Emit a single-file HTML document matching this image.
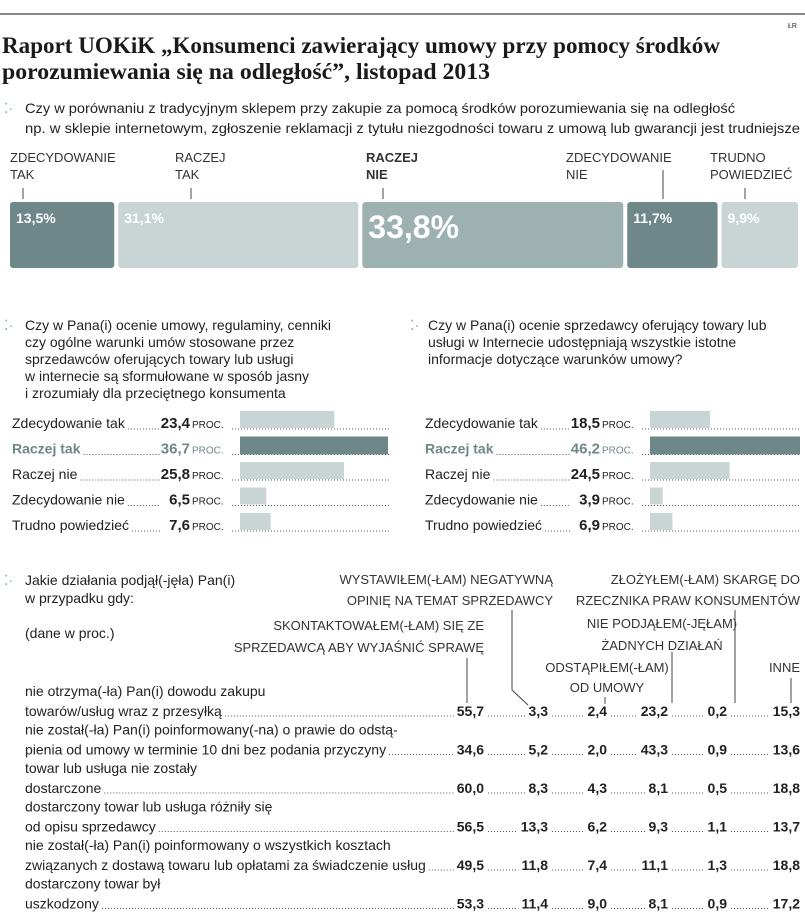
<!DOCTYPE html>
<html><head><meta charset="utf-8"><style>
html,body{margin:0;padding:0;background:#fff}
svg{display:block}
text{font-family:"Liberation Sans",sans-serif;fill:#222}
.t{font-family:"Liberation Serif",serif;font-weight:bold;font-size:23px;fill:#1a1a1a}
.q{font-size:14px}
.cap{font-size:13px;fill:#333}
.dot{stroke:#555;stroke-width:1;stroke-dasharray:1 2}
.ln{stroke:#444;stroke-width:1;fill:none}
</style></head><body>
<svg id="s" width="805" height="920" viewBox="0 0 805 920">
<line x1="0" y1="14" x2="805" y2="14" stroke="#888" stroke-width="2"/>
<text x="788" y="28" font-size="7">ŁR</text>
<text class="t" x="2" y="53" textLength="718" lengthAdjust="spacingAndGlyphs">Raport UOKiK „Konsumenci zawierający umowy przy pomocy środków</text>
<text class="t" x="2" y="79" textLength="488" lengthAdjust="spacingAndGlyphs">porozumiewania się na odległość”, listopad 2013</text>
<text class="q" x="4" y="113" style="fill:#7a9">⁚·</text>
<text class="q" x="25" y="113" textLength="710" lengthAdjust="spacingAndGlyphs">Czy w porównaniu z tradycyjnym sklepem przy zakupie za pomocą środków porozumiewania się na odległość</text>
<text class="q" x="25" y="133" textLength="775" lengthAdjust="spacingAndGlyphs">np. w sklepie internetowym, zgłoszenie reklamacji z tytułu niezgodności towaru z umową lub gwarancji jest trudniejsze</text>
<g id="top"></g>
<g id="q2">
<text class="q" x="4" y="330" style="fill:#7a9">⁚·</text>
<text class="q" x="25" y="330">Czy w Pana(i) ocenie umowy, regulaminy, cenniki</text>
<text class="q" x="25" y="347">czy ogólne warunki umów stosowane przez</text>
<text class="q" x="25" y="364">sprzedawców oferujących towary lub usługi</text>
<text class="q" x="25" y="381">w internecie są sformułowane w sposób jasny</text>
<text class="q" x="25" y="398">i zrozumiały dla przeciętnego konsumenta</text>
</g>
<g id="q3">
<text class="q" x="410" y="330" style="fill:#7a9">⁚·</text>
<text class="q" x="428" y="330">Czy w Pana(i) ocenie sprzedawcy oferujący towary lub</text>
<text class="q" x="428" y="347">usługi w Internecie udostępniają wszystkie istotne</text>
<text class="q" x="428" y="364">informacje dotyczące warunków umowy?</text>
</g>
<g id="left"></g>
<g id="right"></g>
<g id="tbl">
<text class="q" x="4" y="585" style="fill:#7a9">⁚·</text>
<text class="q" x="25" y="585">Jakie działania podjął(-jęła) Pan(i)</text>
<text class="q" x="25" y="603">w przypadku gdy:</text>
<text class="q" x="25" y="638">(dane w proc.)</text>
<text class="cap" x="553" y="584" text-anchor="end">WYSTAWIŁEM(-ŁAM) NEGATYWNĄ</text>
<text class="cap" x="553" y="605" text-anchor="end">OPINIĘ NA TEMAT SPRZEDAWCY</text>
<text class="cap" x="800" y="584" text-anchor="end">ZŁOŻYŁEM(-ŁAM) SKARGĘ DO</text>
<text class="cap" x="800" y="605" text-anchor="end">RZECZNIKA PRAW KONSUMENTÓW</text>
<text class="cap" x="484" y="630" text-anchor="end">SKONTAKTOWAŁEM(-ŁAM) SIĘ ZE</text>
<text class="cap" x="484" y="652" text-anchor="end">SPRZEDAWCĄ ABY WYJAŚNIĆ SPRAWĘ</text>
<text class="cap" x="662" y="628" text-anchor="middle">NIE PODJĄŁEM(-JĘŁAM)</text>
<text class="cap" x="662" y="650" text-anchor="middle">ŻADNYCH DZIAŁAŃ</text>
<text class="cap" x="607" y="672" text-anchor="middle">ODSTĄPIŁEM(-ŁAM)</text>
<text class="cap" x="607" y="692" text-anchor="middle">OD UMOWY</text>
<text class="cap" x="800" y="672" text-anchor="end">INNE</text>
<path class="ln" d="M467 658V703M512 610V690L528 705M672 652V703M735 610V703M791 678V703M605 697V704"/>
</g>
</svg>
<script>
const topCats=["ZDECYDOWANIE|TAK","RACZEJ|TAK","RACZEJ|NIE","ZDECYDOWANIE|NIE","TRUDNO|POWIEDZIEĆ"];
const topVals=[13.5,31.1,33.8,11.7,9.9];
const topLabels=["13,5%","31,1%","33,8%","11,7%","9,9%"];
const leftCats=["Zdecydowanie tak","Raczej tak","Raczej nie","Zdecydowanie nie","Trudno powiedzieć"];
const leftVals=[23.4,36.7,25.8,6.5,7.6];
const rightVals=[18.5,46.2,24.5,3.9,6.9];
const tblRows=[["nie otrzyma(-ła) Pan(i) dowodu zakupu","towarów/usług wraz z przesyłką"],["nie został(-ła) Pan(i) poinformowany(-na) o prawie do odstą-","pienia od umowy w terminie 10 dni bez podania przyczyny"],["towar lub usługa nie zostały","dostarczone"],["dostarczony towar lub usługa różniły się","od opisu sprzedawcy"],["nie został(-ła) Pan(i) poinformowany o wszystkich kosztach","związanych z dostawą towaru lub opłatami za świadczenie usług"],["dostarczony towar był","uszkodzony"]];
const tblVals=[[55.7,3.3,2.4,23.2,0.2,15.3],[34.6,5.2,2.0,43.3,0.9,13.6],[60.0,8.3,4.3,8.1,0.5,18.8],[56.5,13.3,6.2,9.3,1.1,13.7],[49.5,11.8,7.4,11.1,1.3,18.8],[53.3,11.4,9.0,8.1,0.9,17.2]];
const NS="http://www.w3.org/2000/svg";
function mk(p,t,a,txt){const e=document.createElementNS(NS,t);for(const k in a){if(k==='fill'&&t==='text')e.style.fill=a[k];else e.setAttribute(k,a[k]);}if(txt!==undefined)e.textContent=txt;p.appendChild(e);return e;}
const fmt=v=>v.toFixed(1).replace('.',',');
const topG=document.getElementById('top');
const gap=4,x0=10,W=788;
const sc=(W-gap*(topVals.length-1))/topVals.reduce((a,b)=>a+b,0);
const topFill=["#6e8789","#c9d5d4","#9db1b1","#6e8789","#c9d5d4"];
const labX=[10,175,366,566,710];
const tickX=[23,191,383,663,745];
let x=x0;
topVals.forEach((v,i)=>{
  const w=v*sc;
  const r=mk(topG,'rect',{x:x,y:202,width:w,height:66,rx:3,fill:topFill[i]});
  
  
  const big=i===2;
  const t=mk(topG,'text',{x:x+6,y:big?238:223,'font-size':big?32:14,'font-weight':'bold',fill:'#fff'},topLabels[i]);
  
  
  topCats[i].split('|').forEach((p,j)=>{const l=mk(topG,'text',{x:labX[i],y:162+j*17,'font-size':13,fill:'#333','font-weight':big?'bold':'normal'},p);
    
    });
  mk(topG,'line',{x1:tickX[i],y1:i===3?170:188,x2:tickX[i],y2:199,stroke:'#444','stroke-width':1});
  x+=w+gap;
});
function panel(id,ox,barX,vals,maxW,endX){
  const g=document.getElementById(id);
  const m=Math.max(...vals);
  vals.forEach((v,i)=>{
    const y=423+i*25.5;
    const hl=i===1;
    const lab=mk(g,'text',{x:ox,y:y+5,'font-size':14,fill:hl?'#6e8789':'#222','font-weight':hl?'bold':'normal'},leftCats[i]);
    
    
    const vt=mk(g,'text',{x:barX-50,y:y+5,'font-size':15,'font-weight':'bold','text-anchor':'end',fill:hl?'#6e8789':'#222'},fmt(v));
    
    
    mk(g,'text',{x:barX-48,y:y+5,'font-size':10,fill:hl?'#6e8789':'#222'},'PROC.');
    mk(g,'line',{x1:ox+lab.getComputedTextLength()+3,y1:y+6,x2:barX-50-30,y2:y+6,class:'dot'});
    mk(g,'line',{x1:barX-8,y1:y+6,x2:endX,y2:y+6,class:'dot'});
    const b=mk(g,'rect',{x:barX,y:y-12,width:v/m*maxW,height:hl?18:17,fill:hl?'#6e8789':'#c9d5d4'});
    
    
  });
}
panel('left',12,240,leftVals,148,390);
panel('right',425,650,rightVals,150,800);
const tg=document.getElementById('tbl');
const colX=[484,548,607,668,727,800];
tblRows.forEach((r,i)=>{
  const y=716+i*38.5;
  mk(tg,'text',{x:25,y:y-20,'font-size':14},r[0]);
  const l=mk(tg,'text',{x:25,y:y,'font-size':14},r[1]);
  
  
  let prev=25+l.getComputedTextLength()+3;
  tblVals[i].forEach((v,j)=>{
    const t=mk(tg,'text',{x:colX[j],y:y,'font-size':14,'font-weight':'bold','text-anchor':'end'},fmt(v));
    
    
    const w=t.getComputedTextLength();
    mk(tg,'line',{x1:prev,y1:y,x2:colX[j]-w-3,y2:y,class:'dot'});
    prev=colX[j]+4;
  });
});
</script>
</body></html>
